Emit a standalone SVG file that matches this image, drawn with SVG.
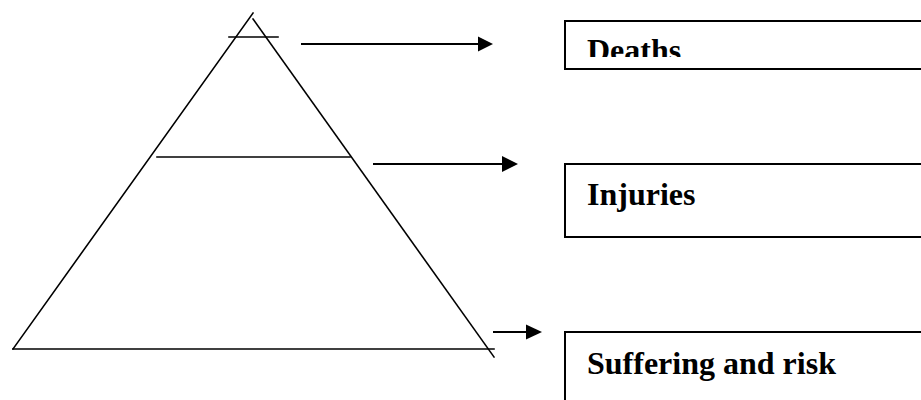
<svg xmlns="http://www.w3.org/2000/svg" width="921" height="400" viewBox="0 0 921 400">
<style>
.tri{stroke:#000;stroke-width:1.6;fill:none;stroke-linecap:square}
.conn{stroke:#000;stroke-width:2;fill:none}
.box{stroke:#000;stroke-width:2;fill:#fff}
.lbl{font-family:"Liberation Serif","Times New Roman",serif;font-weight:bold;font-size:32px;fill:#000}
</style>
<defs>
<clipPath id="clipDeaths"><rect x="566" y="22" width="400" height="35"/></clipPath>
</defs>
<rect width="921" height="400" fill="#fff"/>
<g id="pyramid">
<line class="tri" x1="253" y1="13" x2="13" y2="349"/>
<line class="tri" x1="253" y1="19" x2="494" y2="357"/>
<line class="tri" x1="13" y1="349" x2="494" y2="349"/>
<line class="tri" x1="157" y1="157" x2="350" y2="157"/>
<line class="tri" x1="229" y1="37" x2="278" y2="37"/>
</g>
<g id="connectors">
<line class="conn" x1="301" y1="44" x2="479" y2="44"/>
<polygon points="478,36.5 493,44 478,51.5" fill="#000"/>
<line class="conn" x1="373" y1="164" x2="503" y2="164"/>
<polygon points="502,156 518,164 502,172" fill="#000"/>
<line class="conn" x1="493" y1="332" x2="527" y2="332"/>
<polygon points="526,324.5 542,332 526,339.5" fill="#000"/>
</g>
<g id="deaths">
<rect class="box" x="565" y="21" width="380" height="48"/>
<text class="lbl" x="587" y="61" clip-path="url(#clipDeaths)">Deaths</text>
</g>
<g id="injuries">
<rect class="box" x="565" y="164" width="380" height="73"/>
<text class="lbl" x="587" y="205">Injuries</text>
</g>
<g id="suffering">
<rect class="box" x="565" y="332" width="380" height="100"/>
<text class="lbl" x="587" y="374">Suffering and risk</text>
</g>
</svg>
